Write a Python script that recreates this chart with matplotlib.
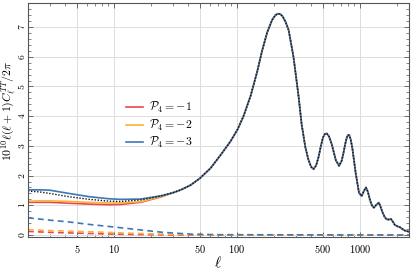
import numpy as np
import matplotlib
matplotlib.use('Agg')
from matplotlib import pyplot as plt
from matplotlib.ticker import FixedLocator, FixedFormatter, MultipleLocator, LogLocator, NullFormatter

plt.rcParams['mathtext.fontset'] = 'cm'
plt.rcParams['font.family'] = ['DejaVu Serif']

# shared high-ell part of the spectrum (all curves overlap here)
ell_hi = [30, 35, 42, 50, 61, 73.5, 88.5, 101, 113, 129, 146, 160, 176, 193, 205, 215, 225, 235,
          248, 263, 288, 317, 335, 359, 380, 400, 419, 440, 460, 480, 500, 518, 537, 560, 590, 636, 676,
          710, 733, 760, 780, 800, 818, 840, 867, 923, 982, 1032, 1075, 1119, 1160, 1205, 1250, 1298, 1360,
          1424, 1470, 1515, 1580, 1643, 1710, 1782, 1850, 1920, 2043, 2100, 2177, 2311, 2500]
cl_hi = [1.42, 1.52, 1.68, 1.91, 2.25, 2.69, 3.15, 3.55, 4.0, 4.68, 5.5, 6.2, 6.82, 7.24, 7.40, 7.45, 7.44, 7.36,
         7.18, 6.9, 6.0, 4.66, 3.75, 2.97, 2.55, 2.30, 2.22, 2.34, 2.62, 2.98, 3.28, 3.40, 3.42, 3.32, 3.05, 2.52, 2.33,
         2.50, 2.75, 3.08, 3.27, 3.37, 3.36, 3.22, 2.92, 2.08, 1.42, 1.31, 1.48, 1.60, 1.45, 1.18, 1.0, 0.92, 1.02,
         1.09, 0.95, 0.79, 0.62, 0.53, 0.52, 0.54, 0.45, 0.34, 0.28, 0.27, 0.22, 0.15, 0.11]

# low-ell parts
ell_lo = [2, 2.5, 3, 4.3, 6.3, 9.1, 11.4, 16.5, 24]
cl_ref = [1.48, 1.45, 1.40, 1.29, 1.20, 1.14, 1.13, 1.18, 1.31]
cl_m1 = [1.10, 1.10, 1.10, 1.07, 1.04, 1.02, 1.03, 1.10, 1.28]
cl_m2 = [1.14, 1.15, 1.15, 1.13, 1.10, 1.08, 1.08, 1.12, 1.29]
cl_m3 = [1.52, 1.52, 1.51, 1.40, 1.29, 1.22, 1.20, 1.21, 1.32]

# dashed contributions
ell_d = [2, 3, 4.3, 6.5, 10, 16.5, 25, 42, 70, 2500]
d_m1 = [0.12, 0.09, 0.07, 0.05, 0.03, 0.015, 0.005, 0.0, 0.0, 0.0]
d_m2 = [0.18, 0.15, 0.13, 0.11, 0.08, 0.05, 0.03, 0.01, 0.0, 0.0]
d_m3 = [0.58, 0.50, 0.44, 0.35, 0.27, 0.17, 0.09, 0.03, 0.01, 0.0]

labels = [r'$\mathcal{P}_4=-1$', r'$\mathcal{P}_4=-2$', r'$\mathcal{P}_4=-3$']
colors = ['#e8474c', '#fbb33a', '#3b78b5']

fig = plt.figure(figsize=(4.11, 2.76), dpi=100)
ax = fig.add_axes([0.068, 0.141, 0.927, 0.848])

for cl, d, c, lab in zip([cl_m1, cl_m2, cl_m3], [d_m1, d_m2, d_m3], colors, labels):
    ax.plot(ell_lo + ell_hi, cl + cl_hi, color=c, lw=1.2, label=lab)
    ax.plot(ell_d, d, color=c, lw=1.2, ls=(0, (3.5, 2.5)))
ax.plot(ell_lo + ell_hi, cl_ref + cl_hi, color='#111111', lw=1.0, ls=(0, (1, 1.2)))

ax.set_xscale('log')
ax.set_xlim(2, 2500)
ax.set_ylim(-0.07, 7.81)

xt = [5, 10, 50, 100, 500, 1000]
ax.xaxis.set_major_locator(FixedLocator(xt))
ax.xaxis.set_major_formatter(FixedFormatter(['$%d$' % v for v in xt]))
ax.xaxis.set_minor_locator(LogLocator(base=10, subs=np.arange(1, 10)))
ax.xaxis.set_minor_formatter(NullFormatter())
ax.yaxis.set_minor_locator(MultipleLocator(0.2))
ax.set_yticks(range(0, 8))
ax.set_yticklabels(['$%d$' % v for v in range(0, 8)], rotation=90, va='center')

ax.tick_params(which='both', direction='in', top=True, right=True, color='#555555')
ax.tick_params(axis='x', pad=4, labelsize=7.5)
ax.tick_params(axis='y', pad=0.5, labelsize=7)
ax.tick_params(which='major', length=3.5, width=0.6)
ax.tick_params(which='minor', length=2, width=0.5)
ax.grid(True, which='major', color='#dddddd', lw=0.7)
ax.set_axisbelow(True)
for s in ax.spines.values():
    s.set_color('#555555')
    s.set_linewidth(0.8)

ax.set_xlabel(r'$\ell$', fontsize=11, labelpad=0)
ax.set_ylabel(r'$10^{10}\ell(\ell+1)C_\ell^{TT}/2\pi$', fontsize=8.5)
ax.yaxis.set_label_coords(-0.027, 0.54)

ax.legend(loc='center left', bbox_to_anchor=(0.23, 0.478), frameon=False, fontsize=8.5,
          handlelength=1.4, handletextpad=0.5, labelspacing=0.22)

fig.savefig('out.png', dpi=100)
